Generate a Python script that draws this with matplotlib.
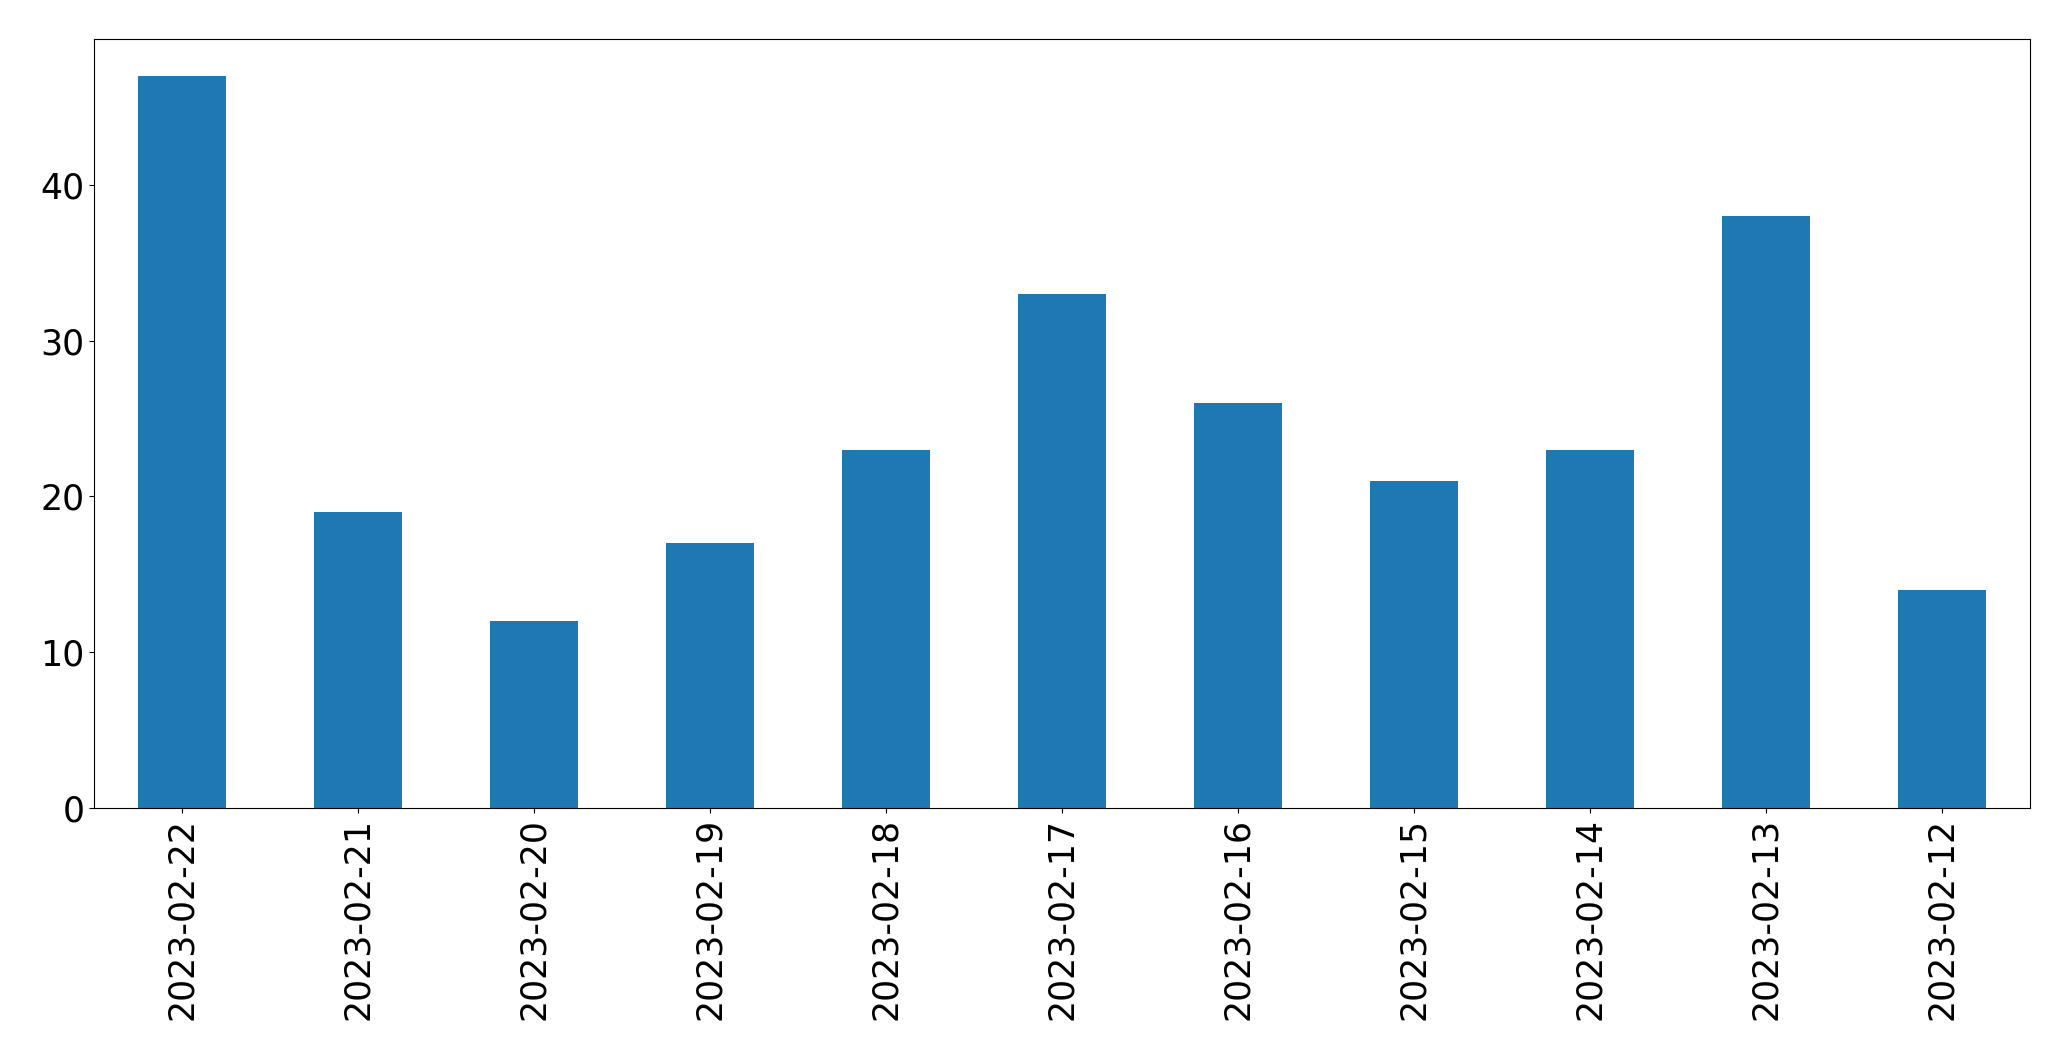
import pandas as pd
from matplotlib import pyplot as plt

# daily counts, newest first
dates = ["2023-02-22", "2023-02-21", "2023-02-20", "2023-02-19", "2023-02-18",
         "2023-02-17", "2023-02-16", "2023-02-15", "2023-02-14", "2023-02-13",
         "2023-02-12"]
counts = [47, 19, 12, 17, 23, 33, 26, 21, 23, 38, 14]

s = pd.Series(counts, index=dates)

fig, ax = plt.subplots(figsize=(20.71, 10.61), dpi=100)
s.plot(kind="bar", ax=ax, color="#1f77b4", fontsize=25)
fig.subplots_adjust(left=0.0454, right=0.980, top=0.963, bottom=0.2385)
fig.savefig("out.png", dpi=100)
